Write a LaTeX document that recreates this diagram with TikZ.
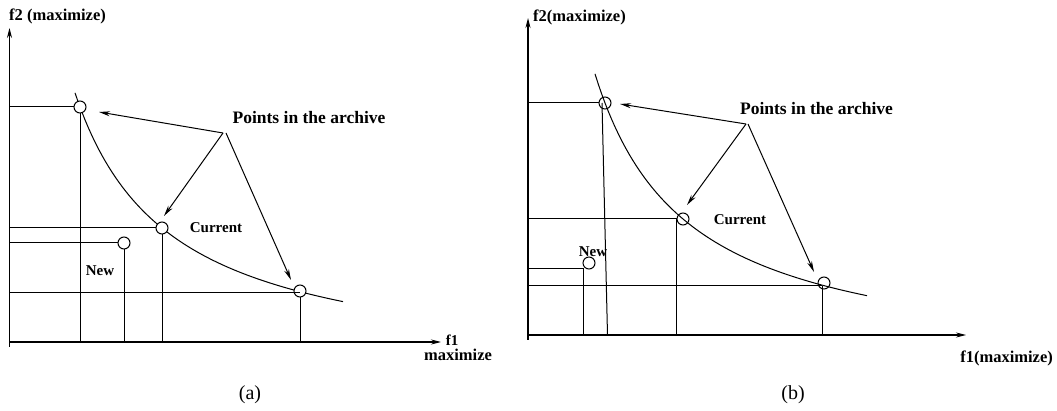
\documentclass[tikz,border=0pt]{standalone}
\usepackage{fontspec}
\setmainfont{Liberation Serif}
\usetikzlibrary{arrows.meta}
\begin{document}
\begin{tikzpicture}[x=1pt,y=-1pt,
  pt/.style={circle,draw,line width=1pt,minimum size=12pt,inner sep=0pt},
  ln/.style={line width=1pt},
  axl/.style={line width=1.1pt,-{Stealth[length=10pt,width=5pt]}},
  parrow/.style={line width=1pt,-{Stealth[length=11pt,width=5pt]}},
  lbl/.style={font=\bfseries\fontsize{17.5}{20}\selectfont,inner sep=0pt},
  mlbl/.style={font=\bfseries\fontsize{15}{18}\selectfont,inner sep=0pt},
  axlbl/.style={font=\bfseries\fontsize{16.5}{19}\selectfont,inner sep=0pt},
  captxt/.style={font=\fontsize{20}{24}\selectfont,inner sep=0pt}
]
\useasboundingbox (0,0) rectangle (1057,411);

% ---------------- panel (a) ----------------
\coordinate (oa) at (9.5,342);
\coordinate (ya0) at (9.5,347);
\coordinate (ya) at (9.5,28);
\coordinate (xa) at (441,342);
\draw[axl] (ya0) -- (ya);
\draw[axl] (oa) -- (xa);

\draw[ln] plot[domain=75:343,samples=80] (\x,{375.6-268.58/((\x+20)/100)});

\node[pt,fill=white] (a1) at (80,107) {};
\node[pt,fill=white] (ac) at (162,228) {};
\node[pt,fill=white] (an) at (124,243) {};
\node[pt,fill=white] (a3) at (300,291) {};

\draw[ln] (oa |- a1) -- (a1.west);
\draw[ln] (a1.south) -- (a1 |- oa);
\draw[ln] (oa |- ac) -- (ac.west);
\draw[ln] (ac.south) -- (ac |- oa);
\draw[ln] (oa |- an) -- (an.west);
\draw[ln] (an.south) -- (an |- oa);
\coordinate (a3h) at (300,293);
\draw[ln] (oa |- a3h) -- (a3h);
\draw[ln] (a3.south) -- (a3 |- oa);

\coordinate (pa) at (223,133);
\coordinate (pa2) at (226,133);
\coordinate (ta1) at (99,112);
\coordinate (tac) at (164,216);
\coordinate (ta3) at (291,280);
\draw[parrow] (pa) -- (ta1);
\draw[parrow] (pa) -- (tac);
\draw[parrow] (pa2) -- (ta3);

\node[lbl] (pta) at (309,118) {Points in the archive};
\node[mlbl] (cura) at (216,228) {Current};
\node[mlbl] (newa) at (100,271) {New};
\node[axlbl,anchor=west] (f2a) at (9,16) {f2 (maximize)};
\node[mlbl,anchor=south] (f1a) at (452,346) {f1};
\node[axlbl,anchor=north] (f1ma) at (458,348.5) {maximize};
\node[captxt] (capa) at (250,395) {(a)};

% ---------------- panel (b) ----------------
\coordinate (ob) at (528,335);
\coordinate (yb0) at (528,340);
\coordinate (yb) at (528,18);
\coordinate (xb) at (966,335);
\draw[axl] (yb0) -- (yb);
\draw[axl] (ob) -- (xb);

\draw[ln] plot[domain=595:867,samples=80] (\x,{370.7-273.07/((\x-503)/100)});

\node[pt] (b1) at (605,103) {};
\node[pt] (bc) at (683,219) {};
\node[pt] (bn) at (589,263) {};
\node[pt] (b3) at (824,283) {};

\draw[ln] (ob |- b1) -- (b1.west);
\coordinate (b1s) at (602,103);
\coordinate (b1e) at (607.5,335);
\draw[ln] (b1s) -- (b1e);
\draw[ln] (ob |- bc) -- (bc.west);
\draw[ln] (bc.west) -- (bc.west |- ob);
\coordinate (bnc) at (583,269);
\draw[ln] (ob |- bnc) -- (bnc) -- (bnc |- ob);
\coordinate (b3h) at (822,286);
\draw[ln] (ob |- b3h) -- (b3h);
\draw[ln] (b3h) -- (b3h |- ob);

\coordinate (pb) at (746,124);
\coordinate (pb2) at (748,124);
\coordinate (tb1) at (620,104);
\coordinate (tbc) at (687,205);
\coordinate (tb3) at (814,272);
\draw[parrow] (pb) -- (tb1);
\draw[parrow] (pb) -- (tbc);
\draw[parrow] (pb2) -- (tb3);

\node[lbl] (ptb) at (816.5,109) {Points in the archive};
\node[mlbl] (curb) at (740,220) {Current};
\node[mlbl,anchor=south] (newb) at (593,257) {New};
\node[axlbl,anchor=west] (f2b) at (533,17) {f2(maximize)};
\node[axlbl,anchor=east] (f1b) at (1053,358) {f1(maximize)};
\node[captxt] (capb) at (793,395) {(b)};
\end{tikzpicture}
\end{document}
